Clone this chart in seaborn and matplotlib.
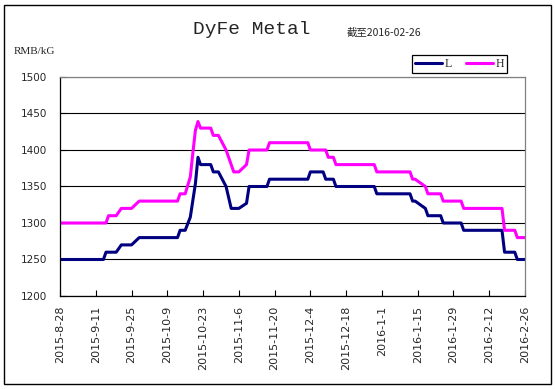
import pandas as pd
import seaborn as sns
import matplotlib.pyplot as plt
from matplotlib.patches import Rectangle

# 起始日期
start = pd.Timestamp('2015-08-28')

# L 线拐点：距起始日的天数、价格
l_days = [0, 17, 18, 22, 24, 28, 31, 46, 47, 49,
          51, 52, 53, 54, 55, 59, 60, 62, 65, 67,
          70, 73, 74, 81, 82, 97, 98, 103, 104, 107,
          108, 123, 124, 137, 138, 139, 143, 144, 149, 150,
          157, 158, 173, 174, 178, 179, 182]
l_vals = [1250, 1250, 1260, 1260, 1270, 1270, 1280, 1280, 1290, 1290,
          1308, 1331, 1354, 1390, 1380, 1380, 1370, 1370, 1350, 1320,
          1320, 1327, 1350, 1350, 1360, 1360, 1370, 1370, 1360, 1360,
          1350, 1350, 1340, 1340, 1330, 1330, 1320, 1310, 1310, 1300,
          1300, 1290, 1290, 1260, 1260, 1250, 1250]

# H 线拐点
h_days = [0, 18, 19, 22, 24, 28, 31, 46, 47, 49,
          51, 52, 53, 54, 55, 59, 60, 62, 65, 68,
          70, 73, 74, 81, 82, 97, 98, 104, 105, 107,
          108, 123, 124, 137, 138, 139, 143, 144, 149, 150,
          157, 158, 173, 174, 178, 179, 182]
h_vals = [1300, 1300, 1310, 1310, 1320, 1320, 1330, 1330, 1340, 1340,
          1363, 1396, 1427, 1439, 1430, 1430, 1420, 1420, 1400, 1370,
          1370, 1380, 1400, 1400, 1410, 1410, 1400, 1400, 1390, 1390,
          1380, 1380, 1370, 1370, 1360, 1360, 1350, 1340, 1340, 1330,
          1330, 1320, 1320, 1290, 1290, 1280, 1280]

tick_labels = ['2015-8-28', '2015-9-11', '2015-9-25', '2015-10-9', '2015-10-23',
               '2015-11-6', '2015-11-20', '2015-12-4', '2015-12-18', '2016-1-1',
               '2016-1-15', '2016-1-29', '2016-2-12', '2016-2-26']
y_ticks = [1200, 1250, 1300, 1350, 1400, 1450, 1500]

colors = {'L': '#000080', 'H': '#FF00FF'}

df = pd.concat([
    pd.DataFrame({'date': start + pd.to_timedelta(l_days, unit='D'), 'price': l_vals, 'series': 'L'}),
    pd.DataFrame({'date': start + pd.to_timedelta(h_days, unit='D'), 'price': h_vals, 'series': 'H'}),
], ignore_index=True)

sns.set_style('white')
plt.rcParams['font.family'] = ['DejaVu Sans', 'Noto Sans CJK SC']

fig = plt.figure(figsize=(5.55, 3.89), dpi=100)
ax = fig.add_axes([60 / 555, 1 - 296 / 389, 465 / 555, 219 / 389])

sns.lineplot(data=df, x='date', y='price', hue='series', palette=colors,
             estimator=None, sort=False, linewidth=2.2, legend=False, ax=ax)

# 坐标轴
tick_dates = pd.to_datetime(tick_labels)
ax.set_xlim(tick_dates[0], tick_dates[-1])
ax.set_xticks(tick_dates)
ax.set_xticklabels(tick_labels, rotation=90, fontsize=8)
ax.set_ylim(1200, 1500)
ax.set_yticks(y_ticks)
ax.set_yticklabels([str(v) for v in y_ticks], fontsize=7.5)
ax.set_xlabel('')
ax.set_ylabel('')
ax.tick_params(axis='both', direction='in', length=4, width=0.8, color='black', left=True, bottom=True)
ax.tick_params(axis='x', pad=7)
ax.tick_params(axis='y', pad=9)

# 网格线
ax.yaxis.grid(True, color='black', linewidth=0.8)
ax.get_ygridlines()[-1].set_color('#808080')
ax.set_axisbelow(True)

for side in ['left', 'bottom']:
    ax.spines[side].set_color('black')
    ax.spines[side].set_linewidth(0.9)
for side in ['top', 'right']:
    ax.spines[side].set_color('#808080')
    ax.spines[side].set_linewidth(0.9)

# 图例
handles = [plt.Line2D([], [], color=colors[k], linewidth=2.2) for k in ['L', 'H']]
leg = fig.legend(handles, ['L', 'H'], loc='upper left', bbox_to_anchor=(406 / 555, 1 - 49 / 389),
                 ncol=2, fancybox=False, framealpha=1, edgecolor='black', borderpad=0.25,
                 handlelength=2.3, handletextpad=0.2, columnspacing=1.2,
                 prop={'family': 'Liberation Serif', 'size': 8.5})
leg.get_frame().set_linewidth(0.9)

# 标题等文字
fig.text(252 / 555, 1 - 30 / 389, 'DyFe Metal', ha='center', va='center',
         family='Liberation Mono', fontsize=14)
fig.text(347 / 555, 1 - 33 / 389, '截至2016-02-26', ha='left', va='center',
         family=['Noto Sans CJK SC', 'DejaVu Sans'], fontsize=7.5)
fig.text(14 / 555, 1 - 52 / 389, 'RMB/kG', ha='left', va='center',
         family='Liberation Serif', fontsize=8)

# 外框
fig.patches.append(Rectangle((4 / 555, 5 / 389), 547 / 555, 379 / 389, transform=fig.transFigure,
                             fill=False, edgecolor='black', linewidth=1))

fig.savefig('out.png', dpi=100)
